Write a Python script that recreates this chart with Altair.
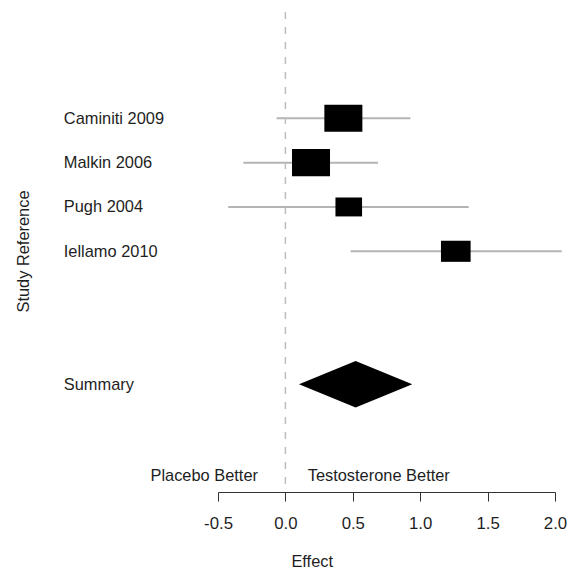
import altair as alt
import pandas as pd

# ---- data ----
studies = ["Caminiti 2009", "Malkin 2006", "Pugh 2004", "Iellamo 2010"]
effects = [0.43, 0.19, 0.47, 1.264]
ci_low = [-0.065, -0.312, -0.424, 0.484]
ci_high = [0.927, 0.687, 1.36, 2.05]
weights = [1.0, 1.0, 0.70, 0.78]
rows = [1, 2, 3, 4]

summary_label = "Summary"
summary_effect = 0.521
summary_low = 0.101
summary_high = 0.941
summary_row = 7

x_ticks = [-0.5, 0.0, 0.5, 1.0, 1.5, 2.0]
side_labels = ["Placebo Better", "Testosterone Better"]

# ---- style constants ----
FONT = "Liberation Sans"
TXT = "#1e1e1e"
FS = 16.4
BOX_HALF_W = 0.141   # data units (x) per unit weight
BOX_HALF_H = 0.305   # row units per unit weight
DIAMOND_HALF_H = 0.526

studies_df = pd.DataFrame(dict(study=studies, est=effects, lo=ci_low,
                               hi=ci_high, w=weights, row=rows))
diamond_df = pd.DataFrame(dict(
    x=[summary_low, summary_effect, summary_high],
    yt=[summary_row, summary_row - DIAMOND_HALF_H, summary_row],
    yb=[summary_row, summary_row + DIAMOND_HALF_H, summary_row],
))

all_rows = rows + [summary_row]
all_names = studies + [summary_label]
label_expr = " : ".join(f"datum.value == {r} ? '{n}'" for r, n in zip(all_rows, all_names)) + " : ''"

x_scale = alt.Scale(domain=[-0.5, 2.0], nice=False, zero=False)
y_scale = alt.Scale(domain=[-1.398, 9.43], nice=False, zero=False, reverse=True)

x_axis = alt.Axis(
    values=x_ticks,
    labelExpr="datum.value < 0 ? '-' + format(-datum.value, '.1f') : format(datum.value, '.1f')",
    labelFlush=False, labelOverlap=False, grid=False,
    tickSize=9, tickColor="#333", tickWidth=1,
    domainColor="#333", domainWidth=1,
    labelPadding=27.3, labelBaseline="alphabetic",
    labelFont=FONT, labelFontSize=16.8, labelColor=TXT,
    title="Effect", titleFont=FONT, titleFontSize=FS, titleColor=TXT,
    titleFontWeight="normal", titleX=93.7, titleY=74.3,
    titleAlign="center", titleBaseline="alphabetic",
)
y_axis = alt.Axis(
    values=all_rows, labelExpr=label_expr,
    labelAlign="left", labelBaseline="middle", labelPadding=154.7,
    ticks=False, tickSize=0, domain=False, grid=False,
    labelFont=FONT, labelFontSize=FS, labelColor=TXT, labelOverlap=False,
    labelLimit=0,
    title="Study Reference", titleFont=FONT, titleFontSize=FS, titleColor=TXT,
    titleFontWeight="normal", titleAngle=270, titleX=-189.5, titleY=239,
    titleAlign="center", titleBaseline="alphabetic",
)

base = alt.Chart(studies_df)

ci = base.mark_rule(color="#b4b4b4", strokeWidth=2).encode(
    x=alt.X("lo:Q", scale=x_scale, axis=x_axis),
    x2="hi:Q",
    y=alt.Y("row:Q", scale=y_scale, axis=y_axis),
)

boxes = base.transform_calculate(
    x1=f"datum.est - {BOX_HALF_W} * datum.w",
    x2=f"datum.est + {BOX_HALF_W} * datum.w",
    y1=f"datum.row - {BOX_HALF_H} * datum.w",
    y2=f"datum.row + {BOX_HALF_H} * datum.w",
).mark_rect(color="black").encode(
    x=alt.X("x1:Q", scale=x_scale, axis=x_axis),
    x2="x2:Q",
    y=alt.Y("y1:Q", scale=y_scale, axis=y_axis),
    y2="y2:Q",
)

diamond = alt.Chart(diamond_df).mark_area(color="black", orient="vertical").encode(
    x=alt.X("x:Q", scale=x_scale, axis=x_axis),
    y=alt.Y("yt:Q", scale=y_scale, axis=y_axis),
    y2="yb:Q",
)

null_line = alt.Chart(pd.DataFrame({"x": [0.0]})).mark_rule(
    color="#bdbdbd", strokeWidth=1.5, strokeDash=[7, 8]
).encode(x=alt.X("x:Q", scale=x_scale, axis=x_axis))

left_txt = alt.Chart(pd.DataFrame({"x": [0.0], "t": [side_labels[0]]})).mark_text(
    align="right", baseline="alphabetic", dx=-27.4, font=FONT, fontSize=FS, color=TXT
).encode(x=alt.X("x:Q", scale=x_scale, axis=x_axis), y=alt.value(469), text="t:N")

right_txt = alt.Chart(pd.DataFrame({"x": [0.0], "t": [side_labels[1]]})).mark_text(
    align="left", baseline="alphabetic", dx=22.3, font=FONT, fontSize=FS, color=TXT
).encode(x=alt.X("x:Q", scale=x_scale, axis=x_axis), y=alt.value(469), text="t:N")

chart = alt.layer(ci, null_line, boxes, diamond, left_txt, right_txt).properties(
    width=337, height=480,
    background="white",
    autosize=alt.AutoSizeParams(type="none"),
    padding={"left": 218, "top": 12, "right": 18, "bottom": 78},
).configure_view(stroke=None)

chart.save("out.html", embed_options={"renderer": "svg", "actions": False})
